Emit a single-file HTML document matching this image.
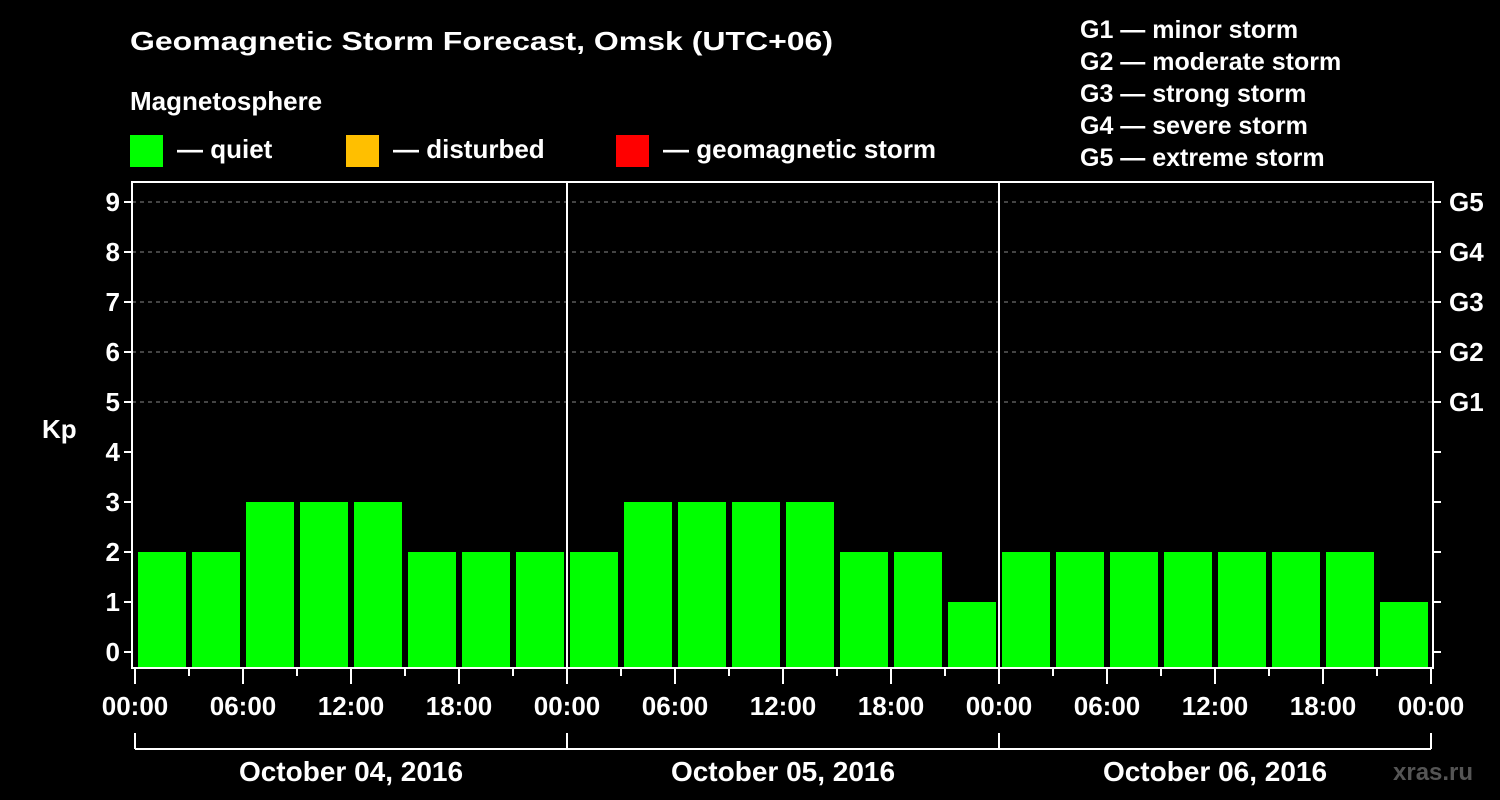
<!DOCTYPE html>
<html><head><meta charset="utf-8"><style>
body{margin:0;background:#000;}
svg{display:block;font-family:"Liberation Sans",sans-serif;font-weight:bold;}
</style></head><body>
<svg id="chart" width="1500" height="800">
<rect width="1500" height="800" fill="#000"/>
<g fill="#fff" font-size="26">
<text x="130" y="50" textLength="703" lengthAdjust="spacingAndGlyphs">Geomagnetic Storm Forecast, Omsk (UTC+06)</text>
<text x="130" y="110">Magnetosphere</text>
<g><rect x="130" y="135" width="33" height="32" fill="#00ff00"/><text x="177" y="158">— quiet</text></g>
<g><rect x="346" y="135" width="33" height="32" fill="#ffbf00"/><text x="393" y="158">— disturbed</text></g>
<g><rect x="616" y="135" width="33" height="32" fill="#ff0000"/><text x="663" y="158">— geomagnetic storm</text></g>
<g font-size="25">
<text x="1080" y="38">G1 — minor storm</text>
<text x="1080" y="70">G2 — moderate storm</text>
<text x="1080" y="102">G3 — strong storm</text>
<text x="1080" y="134">G4 — severe storm</text>
<text x="1080" y="166">G5 — extreme storm</text>
</g>
<text x="42" y="438">Kp</text>
<text x="1393" y="780" font-size="24" fill="#555">xras.ru</text>
</g>
<g id="grid"></g><g id="bars"></g><g id="axes"></g>
</svg>
<script>
const kpValues=[2,2,3,3,3,2,2,2, 2,3,3,3,3,2,2,1, 2,2,2,2,2,2,2,1];
const dayLabels=["October 04, 2016","October 05, 2016","October 06, 2016"];
const hourLabels=["00:00","06:00","12:00","18:00"];
const yTicks=[0,1,2,3,4,5,6,7,8,9];
const gLabels=["G1","G2","G3","G4","G5"];
const NS="http://www.w3.org/2000/svg";
const x0=135,slot=54,y0=652,unit=50,plotBottom=668,plotTop=182,plotLeft=132,plotRight=1433;
const xs=i=>x0+slot*i, ys=v=>y0-unit*v;
function mk(p,t,a){const e=document.createElementNS(NS,t);for(const k in a)e.setAttribute(k,a[k]);p.appendChild(e);return e;}
const grid=document.getElementById('grid'),bars=document.getElementById('bars'),axes=document.getElementById('axes');
[5,6,7,8,9].forEach(v=>{const l=mk(grid,'line',{x1:plotLeft,x2:plotRight,y1:ys(v),y2:ys(v),stroke:'#888','stroke-dasharray':'4 4'});

});
kpValues.forEach((v,i)=>{const c=v>=5?'#ff0000':v>=4?'#ffbf00':'#00ff00';
const r=mk(bars,'rect',{x:xs(i)+3,y:ys(v),width:48,height:plotBottom-ys(v),fill:c});

});
mk(axes,'rect',{x:plotLeft,y:plotTop,width:plotRight-plotLeft,height:plotBottom-plotTop,fill:'none',stroke:'#fff','stroke-width':2});
for(let d=1;d<3;d++)mk(axes,'line',{x1:xs(d*8),x2:xs(d*8),y1:plotTop,y2:plotBottom,stroke:'#fff','stroke-width':2});
yTicks.forEach(v=>{mk(axes,'line',{x1:plotLeft-8,x2:plotLeft,y1:ys(v),y2:ys(v),stroke:'#fff','stroke-width':2});
mk(axes,'line',{x1:plotRight,x2:plotRight+8,y1:ys(v),y2:ys(v),stroke:'#fff','stroke-width':2});
const t=mk(axes,'text',{x:plotLeft-12,y:ys(v)+9,'text-anchor':'end',fill:'#fff','font-size':26});t.textContent=v;

});
gLabels.forEach((g,i)=>{const t=mk(axes,'text',{x:1449,y:ys(5+i)+9,fill:'#fff','font-size':26});t.textContent=g;

});
for(let i=0;i<=24;i++){const long=i%2==0;mk(axes,'line',{x1:xs(i),x2:xs(i),y1:plotBottom,y2:plotBottom+(long?16:8),stroke:'#fff','stroke-width':2});
if(long){const t=mk(axes,'text',{x:xs(i),y:715,'text-anchor':'middle',fill:'#fff','font-size':26});t.textContent=hourLabels[(i/2)%4];

}}
mk(axes,'line',{x1:xs(0),x2:xs(24),y1:749,y2:749,stroke:'#fff','stroke-width':2});
for(let d=0;d<=3;d++)mk(axes,'line',{x1:xs(d*8),x2:xs(d*8),y1:733,y2:749,stroke:'#fff','stroke-width':2});
dayLabels.forEach((s,d)=>{const t=mk(axes,'text',{x:xs(d*8+4),y:781,'text-anchor':'middle',fill:'#fff','font-size':28});t.textContent=s;

});
</script>
</body></html>
